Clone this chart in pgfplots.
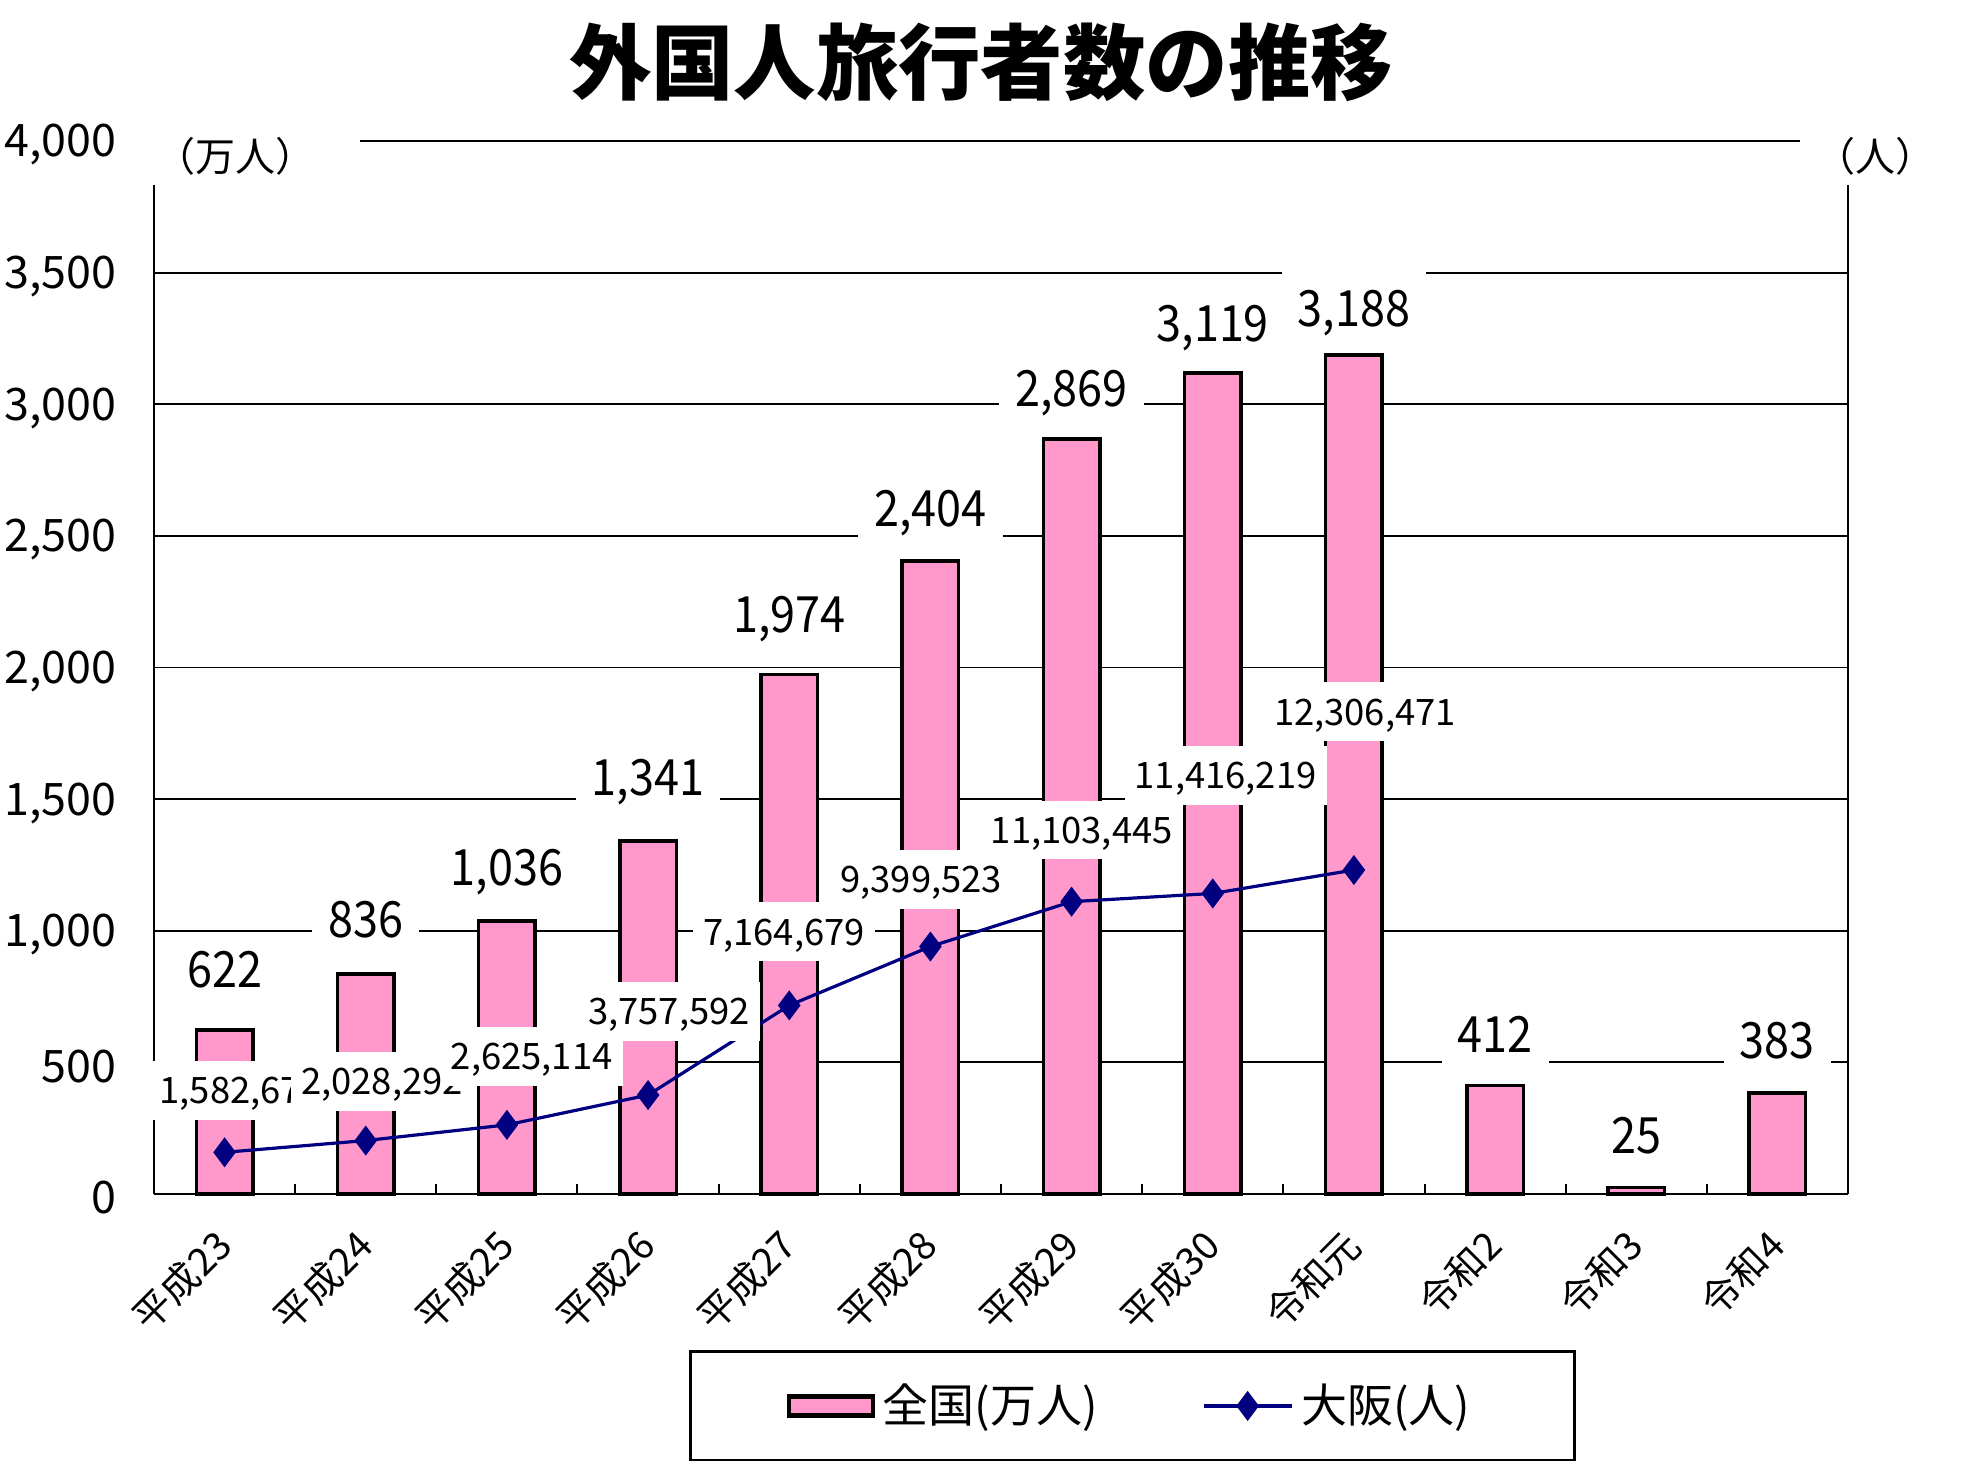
\documentclass[border=0pt]{standalone}
\usepackage{fontspec}
\setmainfont{Noto Sans CJK JP}
\newfontfamily\barfont[FakeStretch=0.9]{Noto Sans CJK JP}
\usepackage{pgfplots}
\pgfplotsset{compat=1.18}
\definecolor{barpink}{HTML}{FF99CC}
\definecolor{navyline}{HTML}{000080}
\pgfplotsset{mylinelegend/.style={legend image code/.code={\draw[mark repeat=2,mark phase=2,##1] plot coordinates {(0pt,0pt) (11pt,0pt) (22pt,0pt)};}}}
\tikzset{
  barlab/.style={fill=white, inner xsep=4pt, inner ysep=4.4pt, text height=9.2pt, text depth=0pt, font=\barfont\fontsize{12.5}{13}\selectfont},
  oslab/.style={fill=white, inner xsep=2.5pt, inner ysep=4pt, text height=6.7pt, text depth=0pt, font=\fontsize{9.1}{10}\selectfont},
}
\begin{document}
\begin{tikzpicture}
\begin{axis}[
  name=ax1,
  at={(38.5pt,69.75pt)}, anchor=south west,
  width=423.5pt, height=263.25pt, scale only axis,
  xmin=-0.5, xmax=11.5, ymin=0, ymax=4000,
  enlargelimits=false, clip=false,
  axis x line*=bottom, axis y line*=left,
  axis line style={black, line width=0.55pt, -},
  x axis line style={-}, y axis line style={-},
  ybar, bar width=0.4,
  xtick={0,...,11},
  xticklabels={平成23,平成24,平成25,平成26,平成27,平成28,平成29,平成30,令和元,令和2,令和3,令和4},
  minor xtick={0.5,1.5,...,10.5},
  major tick length=0pt, minor tick length=2.6pt, tick align=inside,
  minor tick style={black, line width=0.5pt},
  ytick={0,500,...,4000},
  ymajorgrids, grid style={black, line width=0.45pt},
  /pgf/number format/.cd, 1000 sep={,}, assume math mode=true, /pgfplots/.cd,
  yticklabel style={font=\fontsize{11.2}{12}\selectfont, inner sep=0pt, xshift=-9.2pt, yshift=-1pt},
  xticklabel style={font=\fontsize{9.6}{10}\selectfont, inner sep=0pt, anchor=east, xshift=0pt, yshift=-11pt, rotate=45},
]
\addplot[fill=barpink, draw=black, line width=0.9pt] coordinates {
  (0,622) (1,836) (2,1036) (3,1341) (4,1974) (5,2404) (6,2869) (7,3119) (8,3188) (9,412) (10,25) (11,383)};
\node[barlab] at (axis cs:0,855) {622};
\node[barlab] at (axis cs:1,1046) {836};
\node[barlab] at (axis cs:2,1240) {1,036};
\node[barlab] at (axis cs:3,1583) {1,341};
\node[barlab] at (axis cs:4,2201) {1,974};
\node[barlab] at (axis cs:5,2605) {2,404};
\node[barlab] at (axis cs:6,3061) {2,869};
\node[barlab] at (axis cs:7,3308) {3,119};
\node[barlab] at (axis cs:8,3365) {3,188};
\node[barlab] at (axis cs:9,608) {412};
\node[barlab] at (axis cs:10,223) {25};
\node[barlab] at (axis cs:11,585) {383};
\end{axis}
\begin{axis}[
  at={(38.5pt,69.75pt)}, anchor=south west,
  width=423.5pt, height=263.25pt, scale only axis,
  xmin=-0.5, xmax=11.5, ymin=0, ymax=40000000,
  enlargelimits=false, clip=false,
  axis x line=none, axis y line*=right,
  axis line style={black, line width=0.55pt, -},
  y axis line style={-},
  ytick=\empty, scaled y ticks=false,
  legend style={at={(0.5776,-0.2013)}, anchor=center, draw=black, line width=0.6pt,
    font=\fontsize{11.5}{12}\selectfont, inner xsep=24pt, inner ysep=6pt,
    nodes={inner sep=2pt},
    /tikz/every even column/.append style={column sep=24pt}},
  legend columns=2,
]
\addlegendimage{legend image code/.code={\draw[fill=barpink, draw=black, line width=1.1pt] (0pt,-2.4pt) rectangle (21pt,2.4pt);}}
\addlegendentry{全国(万人)}
\addplot[navyline, line width=0.8pt, mark=diamond*, mark size=3.1pt, mark options={fill=navyline, draw=navyline}, mylinelegend]
  coordinates {(0,1582672) (1,2028292) (2,2625114) (3,3757592) (4,7164679) (5,9399523) (6,11103445) (7,11416219) (8,12306471)};
\addlegendentry{大阪(人)}
\node[oslab] at (axis cs:0.112,3945000) {1,582,672};
\node[oslab] at (axis cs:1.115,4278000) {2,028,292};
\node[oslab] at (axis cs:2.176,5228000) {2,625,114};
\node[oslab] at (axis cs:3.148,6940000) {3,757,592};
\node[oslab] at (axis cs:3.963,9960000) {7,164,679};
\node[oslab] at (axis cs:4.934,11950000) {9,399,523};
\node[oslab] at (axis cs:6.072,13830000) {11,103,445};
\node[oslab] at (axis cs:7.091,15900000) {11,416,219};
\node[oslab] at (axis cs:8.078,18320000) {12,306,471};
\end{axis}
\fill[white] (37.5pt,321.9pt) rectangle (89.9pt,337.5pt);
\fill[white] (450pt,321.9pt) rectangle (470pt,337.5pt);
\node[font=\fontsize{10}{11}\selectfont, inner sep=0pt] at (58.9pt,329.1pt) {（万人）};
\node[font=\fontsize{10}{11}\selectfont, inner sep=0pt] at (468.8pt,329.1pt) {（人）};
\node[font=\bfseries\fontsize{20.6}{24}\selectfont, inner sep=0pt] at (245.25pt,352.6pt) {外国人旅行者数の推移};
\pgfresetboundingbox
\useasboundingbox (0,0) rectangle (491pt,368.25pt);
\end{tikzpicture}
\end{document}
